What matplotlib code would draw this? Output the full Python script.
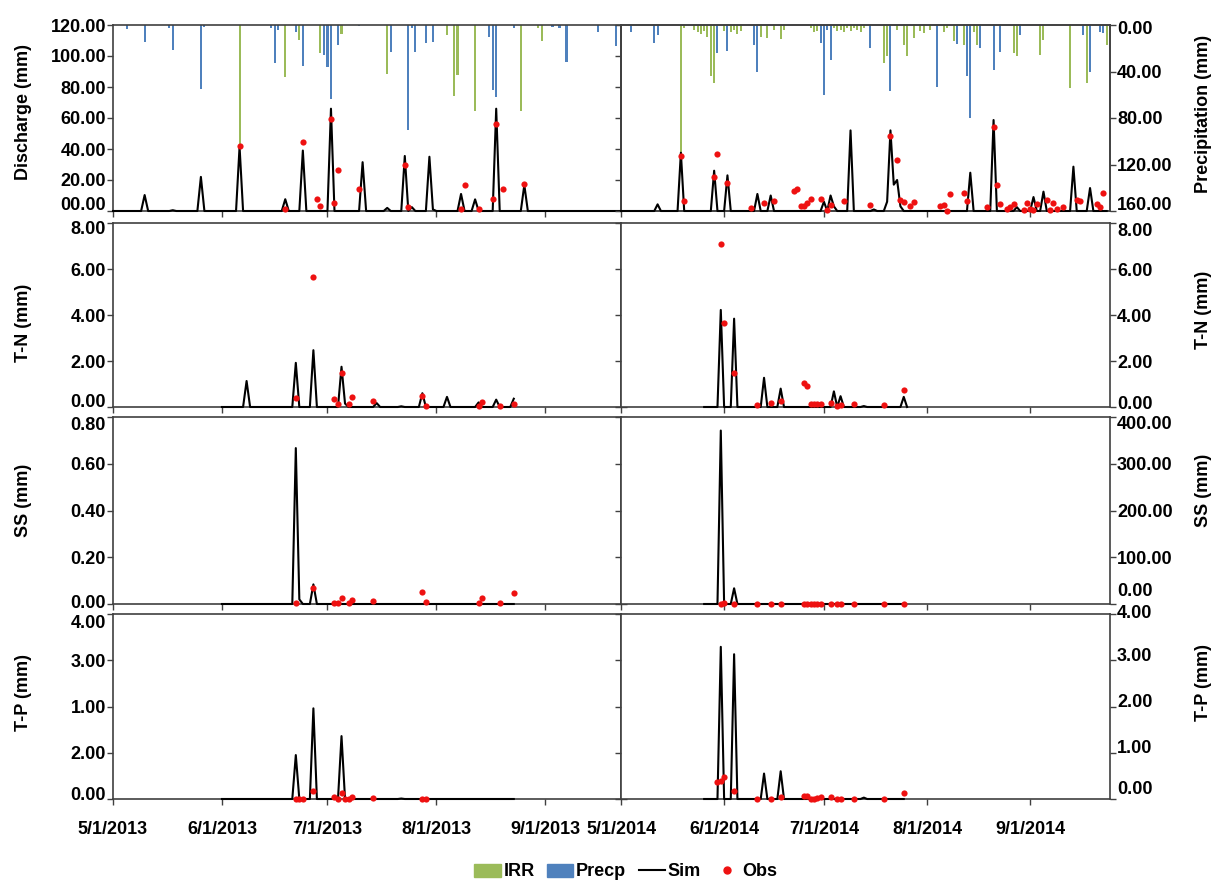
import numpy as np
import matplotlib
matplotlib.use('Agg')
import matplotlib.pyplot as plt
import matplotlib.dates as mdates
from matplotlib.ticker import FuncFormatter
from matplotlib.transforms import ScaledTranslation
from matplotlib.patches import Patch
from matplotlib.lines import Line2D
from datetime import datetime

plt.rcParams['font.family'] = ['Liberation Sans', 'DejaVu Sans']
plt.rcParams['font.weight'] = 'bold'
plt.rcParams['font.size'] = 13

# all days are counted from May 1 of the year of the column

# ---- 2013, discharge / rain ----
q13_sim_days = [9, 17, 25, 36, 49, 54, 62, 71, 78, 83, 85, 90, 91, 99, 103, 109, 117]
q13_sim_vals = [10.3, 0.5, 22, 41.5, 7.6, 39, 66, 31.5, 2, 35.5, 2.5, 35, 1, 11, 7.5, 66, 16.8]
q13_obs_days = [36, 49, 54, 58, 59, 62, 63, 64, 70, 83, 84, 99, 100, 104, 108, 109, 111, 117]
q13_obs_vals = [42, 1.3, 44.5, 8, 3, 59.5, 5, 26.5, 14, 29.5, 2.5, 1, 17, 1.5, 8, 56, 14, 17.5]
irr13_days = [36, 49, 53, 59, 65, 78, 95, 97, 98, 103, 116, 121, 122]
irr13_vals = [105, 45, 13, 24, 8, 42, 9, 61, 43, 74, 74, 3, 14]
rain13_days = [4, 9, 16, 17, 25, 26, 45, 46, 47, 52, 54, 60, 61, 62, 64, 70, 79, 84, 85, 86,
               89, 91, 107, 108, 109, 114, 125, 127, 129, 138, 143]
rain13_vals = [3.7, 14.6, 3, 21.5, 55, 2, 3, 33, 4, 6, 35, 26, 36, 64, 17, 1, 23, 90, 3, 23,
               15.5, 15, 10, 56, 62, 3, 2, 3, 32, 6, 18]

# ---- 2014, discharge / rain ----
q14_sim_days = [11, 18, 28, 32, 41, 45, 61, 63, 64, 69, 76, 80, 81, 82, 83, 84, 105, 112, 119,
                124, 127, 136, 141]
q14_sim_vals = [4.3, 37.6, 26, 23, 11, 10, 6, 10, 3, 52, 1, 6, 52, 17, 20, 3, 24.7, 58.7, 2.5,
                9, 12.5, 28.6, 14.8]
q14_obs_days = [18, 19, 28, 29, 32, 39, 43, 46, 52, 53, 54, 55, 56, 57, 60, 62, 63, 67, 75, 81,
                83, 84, 85, 87, 88, 96, 97, 98, 99, 103, 104, 110, 112, 113, 114, 116, 117, 118,
                121, 122, 123, 124, 125, 128, 129, 130, 131, 133, 137, 138, 143, 144, 145]
q14_obs_vals = [35.3, 6.2, 21.9, 37, 18, 2.2, 5.4, 6.2, 12.9, 14, 3, 3, 5.2, 8, 7.5, 0.9, 3.7,
                6.2, 4.1, 48.2, 33.1, 7.3, 5.8, 3.2, 5.8, 3.2, 4.1, 0, 11.2, 11.6, 6.5, 2.6,
                54.2, 17, 4.3, 1.1, 2.6, 4.7, 0.4, 5.2, 1.5, 0.4, 4.3, 6.9, 0.4, 5.4, 1.1, 2.6,
                7.3, 6.5, 4.3, 2.6, 11.6]
irr14_days = [18, 19, 22, 23, 24, 25, 26, 27, 28, 31, 33, 34, 35, 36, 42, 44, 46, 48, 49, 57,
              58, 59, 64, 65, 66, 67, 68, 69, 70, 71, 72, 73, 79, 80, 83, 85, 86, 88, 90, 91,
              93, 97, 98, 100, 103, 106, 107, 118, 119, 126, 127, 135, 140, 146]
irr14_vals = [113, 3, 4, 6, 8, 5, 10, 44, 50, 5, 6, 4, 8, 5, 10, 11.5, 4, 12, 4, 3,
              6, 5, 3, 5, 4, 6, 3, 5, 3, 4, 6, 3, 33, 27, 4, 17, 27, 11, 5, 7,
              4, 6, 3, 14, 17, 6, 17, 24, 27, 26, 13, 54, 50, 17]
rain14_days = [3, 10, 11, 29, 32, 40, 41, 60, 61, 62, 63, 75, 81, 95, 101, 104, 105, 108, 112,
               114, 120, 139, 141, 144, 145]
rain14_vals = [5.7, 15.8, 9, 24, 22, 17, 40, 15.8, 60, 4, 30, 20, 57, 53, 16, 44, 80, 20, 39,
               23.5, 9, 9, 40, 5.7, 7]

# ---- T-N ----
tn13_sim_days = [38, 52, 57, 65, 66, 75, 82, 88, 95, 104, 109, 114]
tn13_sim_vals = [1.13, 1.92, 2.47, 1.75, 0.15, 0.17, 0.03, 0.6, 0.44, 0.2, 0.32, 0.36]
tn13_obs_days = [52, 57, 63, 64, 65, 67, 68, 74, 88, 89, 104, 105, 110, 114]
tn13_obs_vals = [0.39, 5.65, 0.35, 0.12, 1.48, 0.12, 0.44, 0.25, 0.47, 0.03, 0.03, 0.22, 0.03, 0.12]
tn14_sim_days = [30, 34, 43, 48, 64, 66, 73, 85]
tn14_sim_vals = [4.22, 3.84, 1.27, 0.8, 0.68, 0.47, 0.04, 0.44]
obs14_days = [30, 31, 34, 41, 45, 48, 55, 56, 57, 58, 59, 60, 63, 65, 66, 70, 79, 85]
tn14_obs_vals = [7.1, 3.64, 1.48, 0.1, 0.19, 0.28, 1.05, 0.9, 0.13, 0.12, 0.12, 0.15, 0.17,
                 0.03, 0.07, 0.12, 0.07, 0.73]

# ---- SS ----
ss13_sim_days = [52, 53, 57]
ss13_sim_vals = [0.667, 0.02, 0.084]
ss13_obs_days = [52, 57, 63, 64, 65, 67, 68, 74, 88, 89, 104, 105, 110, 114]
ss13_obs_vals = [0.003, 0.067, 0.003, 0.003, 0.027, 0.006, 0.017, 0.014, 0.053, 0.007, 0.003,
                 0.027, 0.003, 0.046]
ss14_sim_days = [30, 34]
ss14_sim_vals = [371, 33.6]
ss14_obs_vals = [1.0, 1.5, 0.8, 0.5, 0.6, 0.5, 0.7, 0.6, 0.5, 0.4, 0.4, 0.5, 0.6, 0.3, 0.4,
                 0.5, 0.3, 0.9]

# ---- T-P ----
tp13_sim_days = [52, 57, 65, 82]
tp13_sim_vals = [0.95, 1.96, 1.36, 0.01]
tp13_obs_days = [52, 53, 54, 57, 63, 64, 65, 66, 67, 68, 74, 88, 89]
tp13_obs_vals = [0.0, 0.0, 0.0, 0.17, 0.04, 0.0, 0.14, 0.0, 0.01, 0.04, 0.02, 0.01, 0.0]
tp14_sim_days = [30, 34, 43, 48, 73]
tp14_sim_vals = [3.29, 3.13, 0.55, 0.6, 0.03]
tp14_obs_days = [29, 30, 31, 34, 41, 45, 48, 55, 56, 57, 58, 59, 60, 63, 65, 66, 70, 79, 85]
tp14_obs_vals = [0.37, 0.39, 0.48, 0.18, 0.0, 0.01, 0.04, 0.065, 0.065, 0.01, 0.01, 0.03, 0.05,
                 0.05, 0.01, 0.01, 0.01, 0.01, 0.14]

# tick labels as printed in the source figure
q_ticklabels = ['00.00', '20.00', '40.00', '60.00', '80.00', '100.00', '120.00']
p_ticklabels = ['0.00', '40.00', '80.00', '120.00', '160.00']
tn_ticklabels = ['0.00', '2.00', '4.00', '6.00', '8.00']
ss13_ticklabels = ['0.00', '0.20', '0.40', '0.60', '0.80']
ss14_ticklabels = ['0.00', '100.00', '200.00', '300.00', '400.00']
tp13_ticklabels = ['0.00', '2.00', '1.00', '3.00', '4.00']
tp14_ticklabels = ['0.00', '1.00', '2.00', '3.00', '4.00']

IRR_C = '#9bbb59'
PRE_C = '#4f81bd'
OBS_C = '#ee1111'
AX_C = '#404040'


def to_num(year, days):
    return mdates.date2num(datetime(year, 5, 1)) + np.asarray(days, dtype=float)


def daily(start, end, peak_days, peak_vals):
    d = np.arange(start, end + 1)
    v = np.zeros(len(d))
    for pd_, pv in zip(peak_days, peak_vals):
        v[pd_ - start] = pv
    return d, v


def date_fmt(x, pos):
    d = mdates.num2date(x)
    return f"{d.month}/{d.day}/{d.year}"


W, H = 1228, 893
fig = plt.figure(figsize=(W / 100, H / 100), dpi=100)

rows = [(25, 211), (223, 407), (417, 604), (614, 799)]
cols = [(113, 621, 2013, 144.5), (621, 1110, 2014, 147)]


def make_ax(col, row):
    x0, x1, year, ndays = cols[col]
    y0, y1 = rows[row]
    ax = fig.add_axes([x0 / W, 1 - y1 / H, (x1 - x0) / W, (y1 - y0) / H])
    ax.set_xlim(to_num(year, 0), to_num(year, ndays))
    ax.xaxis.set_major_locator(mdates.MonthLocator())
    ax.xaxis.set_major_formatter(FuncFormatter(date_fmt))
    for s in ax.spines.values():
        s.set_color(AX_C)
        s.set_linewidth(1.2)
    ax.tick_params(direction='out', length=4, width=1, color=AX_C, labelsize=13, pad=1)
    ax.tick_params(axis='x', pad=12, labelbottom=(row == 3))
    if col == 0:
        ax.tick_params(axis='y', left=True, right=True, labelleft=True, labelright=False)
    else:
        ax.tick_params(axis='y', left=True, right=True, labelleft=False, labelright=True)
    return ax, year


def set_yscale(ax, top, labels):
    ticks = np.linspace(0, top, len(labels))
    ax.set_ylim(0, top)
    ax.set_yticks(ticks)
    ax.set_yticklabels(labels, fontweight='bold')


def set_ylab(ax, text, side, frac):
    if side == 'right':
        ax.yaxis.set_label_position('right')
        ax.set_ylabel(text, fontsize=13, fontweight='bold', va='center', rotation=90)
        ax.yaxis.set_label_coords((1204 - 621) / 489, frac)
    else:
        ax.set_ylabel(text, fontsize=13, fontweight='bold', va='center')
        ax.yaxis.set_label_coords((24 - 113) / 508, frac)


def nudge(ax, idx, dy):
    # shift one tick label up (dy > 0) or down (dy < 0), in pixels
    labels = ax.yaxis.get_majorticklabels()
    lbl = labels[idx]
    lbl.set_transform(lbl.get_transform() + ScaledTranslation(0, dy / 100, fig.dpi_scale_trans))


def draw_series(ax, year, start, end, sim_days, sim_vals, obs_days, obs_vals):
    d, v = daily(start, end, sim_days, sim_vals)
    ax.plot(to_num(year, d), v, color='black', lw=1.5, zorder=3, clip_on=False)
    ax.scatter(to_num(year, obs_days), obs_vals, s=20, color=OBS_C, zorder=4,
               linewidths=0, clip_on=False)


# ---- row 1: discharge with irrigation / precipitation bars ----
ax, yr = make_ax(0, 0)
set_yscale(ax, 120, q_ticklabels)
draw_series(ax, yr, 0, 144, q13_sim_days, q13_sim_vals, q13_obs_days, q13_obs_vals)
set_ylab(ax, 'Discharge (mm)', 'left', 0.53)
ax2 = ax.twinx()
ax2.bar(to_num(yr, irr13_days), irr13_vals, width=0.6, color=IRR_C, lw=0)
ax2.bar(to_num(yr, rain13_days), rain13_vals, width=0.6, color=PRE_C, lw=0)
ax2.set_ylim(160, 0)
ax2.set_xlim(ax.get_xlim())
ax2.axis('off')
ax.set_zorder(ax2.get_zorder() + 1)
ax.patch.set_visible(False)
nudge(ax, 0, 7)

ax, yr = make_ax(1, 0)
set_yscale(ax, 120, q_ticklabels)
ax.tick_params(axis='y', left=True, right=False, labelleft=False, labelright=False)
draw_series(ax, yr, 0, 146, q14_sim_days, q14_sim_vals, q14_obs_days, q14_obs_vals)
ax2 = ax.twinx()
ax2.bar(to_num(yr, irr14_days), irr14_vals, width=0.6, color=IRR_C, lw=0)
ax2.bar(to_num(yr, rain14_days), rain14_vals, width=0.6, color=PRE_C, lw=0)
ax2.set_ylim(160, 0)
ax2.set_yticks(np.linspace(0, 160, len(p_ticklabels)))
ax2.set_yticklabels(p_ticklabels, fontweight='bold')
ax2.tick_params(direction='out', length=4, width=1, color=AX_C, labelsize=13, pad=1)
for s in ax2.spines.values():
    s.set_color(AX_C)
    s.set_linewidth(1.2)
set_ylab(ax2, 'Precipitation (mm)', 'right', 0.52)
ax.set_zorder(ax2.get_zorder() + 1)
ax.patch.set_visible(False)
nudge(ax2, 4, 7)
nudge(ax2, 0, -3)

# ---- row 2: T-N ----
ax, yr = make_ax(0, 1)
set_yscale(ax, 8, tn_ticklabels)
draw_series(ax, yr, 31, 114, tn13_sim_days, tn13_sim_vals, tn13_obs_days, tn13_obs_vals)
set_ylab(ax, 'T-N (mm)', 'left', 0.456)
nudge(ax, 0, 7)
nudge(ax, 4, -5)

ax, yr = make_ax(1, 1)
set_yscale(ax, 8, tn_ticklabels)
draw_series(ax, yr, 25, 86, tn14_sim_days, tn14_sim_vals, obs14_days, tn14_obs_vals)
set_ylab(ax, 'T-N (mm)', 'right', 0.527)
nudge(ax, 0, 5)
nudge(ax, 4, -6)

# ---- row 3: SS ----
ax, yr = make_ax(0, 2)
set_yscale(ax, 0.8, ss13_ticklabels)
draw_series(ax, yr, 31, 114, ss13_sim_days, ss13_sim_vals, ss13_obs_days, ss13_obs_vals)
set_ylab(ax, 'SS (mm)', 'left', 0.556)
nudge(ax, 0, 3)
nudge(ax, 4, -6)

ax, yr = make_ax(1, 2)
set_yscale(ax, 400, ss14_ticklabels)
draw_series(ax, yr, 25, 85, ss14_sim_days, ss14_sim_vals, obs14_days, ss14_obs_vals)
set_ylab(ax, 'SS (mm)', 'right', 0.61)
nudge(ax, 0, 15)
nudge(ax, 4, -5)

# ---- row 4: T-P ----
ax, yr = make_ax(0, 3)
set_yscale(ax, 4, tp13_ticklabels)
draw_series(ax, yr, 31, 114, tp13_sim_days, tp13_sim_vals, tp13_obs_days, tp13_obs_vals)
set_ylab(ax, 'T-P (mm)', 'left', 0.578)
nudge(ax, 0, 6)
nudge(ax, 4, -7)

ax, yr = make_ax(1, 3)
set_yscale(ax, 4, tp14_ticklabels)
draw_series(ax, yr, 25, 85, tp14_sim_days, tp14_sim_vals, tp14_obs_days, tp14_obs_vals)
set_ylab(ax, 'T-P (mm)', 'right', 0.63)
nudge(ax, 0, 11)
for i in (1, 2, 3):
    nudge(ax, i, 6)
nudge(ax, 4, 2)

handles = [Patch(color=IRR_C), Patch(color=PRE_C),
           Line2D([], [], color='black', lw=1.5),
           Line2D([], [], color=OBS_C, marker='o', markersize=5, linestyle='none')]
fig.legend(handles, ['IRR', 'Precp', 'Sim', 'Obs'], loc='center',
           bbox_to_anchor=(626 / W, 1 - 872 / H), ncol=4, frameon=False,
           prop={'size': 13, 'weight': 'bold'}, handlelength=1.45,
           handletextpad=0.15, columnspacing=0.7)

fig.savefig('out.png', dpi=100)
